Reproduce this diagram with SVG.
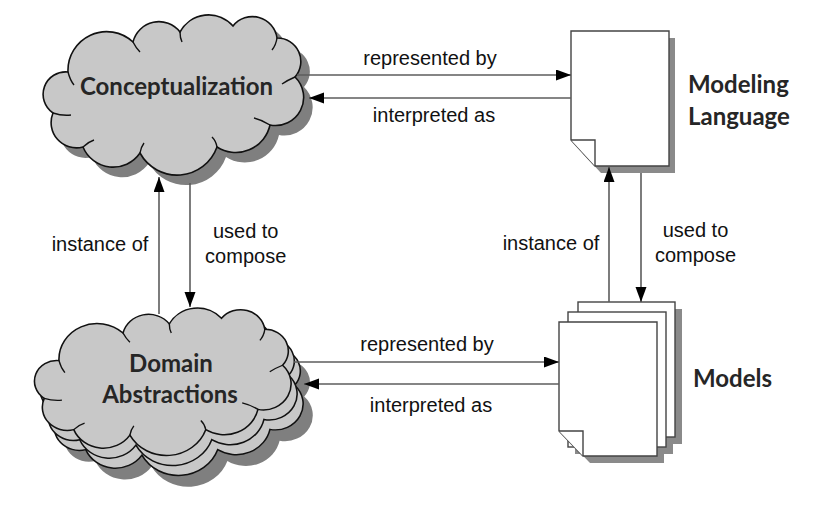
<svg xmlns="http://www.w3.org/2000/svg" xmlns:xlink="http://www.w3.org/1999/xlink" width="821" height="515" viewBox="0 0 821 515">
<style>
.cl{fill:#c8c8c8;stroke:#111;stroke-width:1.6;vector-effect:non-scaling-stroke}
.sh{fill:#7f7f7f;stroke:none}
.tail{fill:none;stroke:#111;stroke-width:1.4;vector-effect:non-scaling-stroke}
.doc{fill:#fff;stroke:#444;stroke-width:1.4}
.dsh{fill:#8a8a8a}
.con{fill:none;stroke:#5c5c5c;stroke-width:1.6;marker-end:url(#arr)}
.lbl{font-family:"Liberation Sans",Arial,sans-serif;font-size:20px;fill:#111;text-anchor:middle}
.big{font-family:Lato,"Open Sans",sans-serif;font-weight:bold;font-size:24px;fill:#262626}
</style>
<defs>
<marker id="arr" markerUnits="userSpaceOnUse" markerWidth="18" markerHeight="14" refX="15" refY="5.5" orient="auto">
<path d="M0,0 L15,5.5 L0,11 Z" fill="#000"/>
</marker>
<path id="cloud" d="M53,113 A22.5,22.5 0 0 1 68,72 A38.7,38.7 0 0 1 133,42 A26.7,26.7 0 0 1 180,32 A32.4,32.4 0 0 1 233,26 A24.8,24.8 0 0 1 277,38 A23.5,23.5 0 0 1 295,77 A28.2,28.2 0 0 1 270,125 A35,35 0 0 1 217,147 A42.3,42.3 0 0 1 140,153 A32.6,32.6 0 0 1 83,147 A25.3,25.3 0 0 1 53,113 Z"/>
<path id="tails" d="M53,113 Q62,116 71,115 M68,72 Q70,80 74,85 M133,42 Q136,48 140,52 M180,32 Q180,38 182,42 M277,38 Q276,45 272,50 M295,77 Q288,80 282,84 M270,125 Q262,120 254,118 M217,147 Q216,141 212,137 M140,153 Q141,147 144,143 M83,147 Q88,142 94,140"/>
</defs>

<g id="conceptualization">
<use xlink:href="#cloud" class="sh" transform="translate(9,10)"/>
<use xlink:href="#cloud" class="cl"/>
<use xlink:href="#tails" class="tail"/>
<text class="big" x="176.5" y="95" text-anchor="middle">Conceptualization</text>
</g>

<g id="domain-abstractions">
<g transform="translate(-8,294.4) scale(0.985,0.92)">
<use xlink:href="#cloud" class="sh" transform="translate(22,34)"/>
<use xlink:href="#cloud" class="cl" transform="translate(12.2,21.7)"/>
<use xlink:href="#cloud" class="cl" transform="translate(6.1,10.9)"/>
<use xlink:href="#cloud" class="cl"/>
<use xlink:href="#tails" class="tail"/>
</g>
<text class="big" x="171" y="372" text-anchor="middle">Domain</text>
<text class="big" x="170" y="403" text-anchor="middle">Abstractions</text>
</g>

<g id="modeling-language">
<path class="dsh" d="M577,38 H675 V173 H601 L577,147 Z"/>
<path class="doc" d="M571,31 H669 V166 H595 L571,140 Z"/>
<path class="doc" d="M571,140 H595 V166"/>
<text class="big" x="688" y="93">Modeling</text>
<text class="big" x="688" y="125">Language</text>
</g>

<g id="models">
<rect class="dsh" x="585" y="309" width="97" height="135"/>
<rect class="dsh" x="575" y="319" width="98" height="135"/>
<path class="dsh" d="M566,329 H664 V463 H590 L566,438 Z"/>
<rect class="doc" x="578" y="302" width="97" height="135"/>
<rect class="doc" x="568" y="312" width="98" height="135"/>
<path class="doc" d="M559,322 H657 V456 H583 L559,431 Z"/>
<path class="doc" d="M559,431 H583 V456"/>
<text class="big" x="693" y="387">Models</text>
</g>

<g id="connectors">
<path class="con" d="M297,75 H571"/>
<path class="con" d="M571,98 H309"/>
<path class="con" d="M159,314 V177"/>
<path class="con" d="M190,183 V307"/>
<path class="con" d="M609,302 V167"/>
<path class="con" d="M641,173 V302"/>
<path class="con" d="M294,362 H559"/>
<path class="con" d="M559,384 H304"/>
</g>

<g id="labels">
<text class="lbl" x="430" y="65">represented by</text>
<text class="lbl" x="434" y="122">interpreted as</text>
<text class="lbl" x="100" y="251">instance of</text>
<text class="lbl" x="245.7" y="238">used to</text>
<text class="lbl" x="245.7" y="263">compose</text>
<text class="lbl" x="551" y="250">instance of</text>
<text class="lbl" x="695.5" y="237">used to</text>
<text class="lbl" x="695.5" y="262">compose</text>
<text class="lbl" x="427" y="351">represented by</text>
<text class="lbl" x="431" y="412">interpreted as</text>
</g>
</svg>
